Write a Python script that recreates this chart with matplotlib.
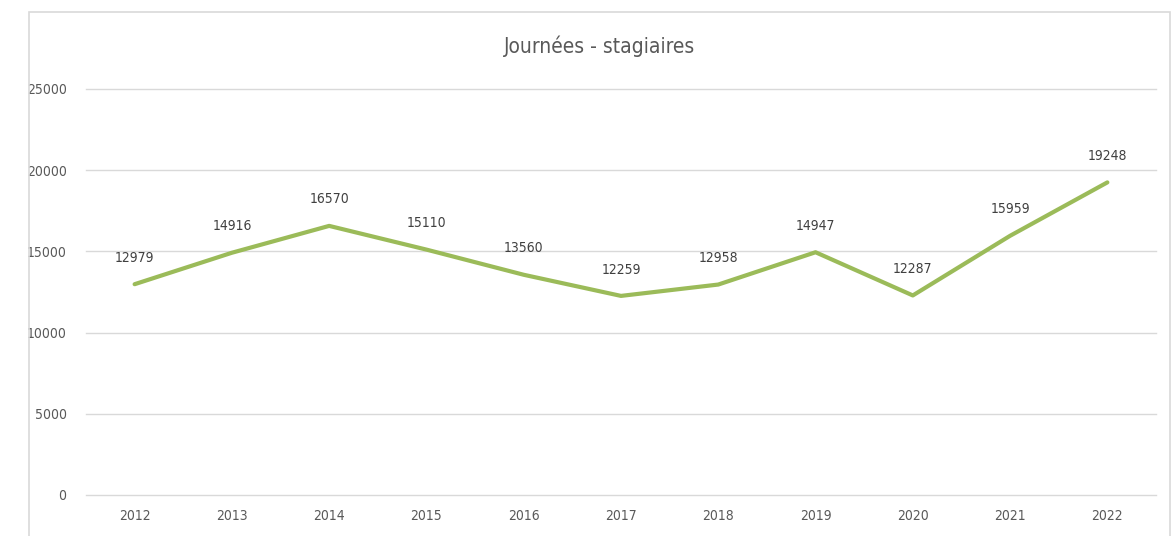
import matplotlib
matplotlib.use("Agg")
import matplotlib.pyplot as plt
from matplotlib.patches import Rectangle
from matplotlib import font_manager

years = ["2012", "2013", "2014", "2015", "2016", "2017", "2018", "2019", "2020", "2021", "2022"]
values = [12979, 14916, 16570, 15110, 13560, 12259, 12958, 14947, 12287, 15959, 19248]
yticks = [0, 5000, 10000, 15000, 20000, 25000]
title = "Journées - stagiaires"

cond = [f for f in font_manager.fontManager.ttflist if f.stretch in ("condensed", "semi-condensed", 87.5, 75)]
names = sorted({(f.name, f.stretch) for f in cond})
print(names)

plt.rcParams["font.family"] = ["DejaVu Sans"]
plt.rcParams["font.stretch"] = "condensed"

fig = plt.figure(figsize=(11.73, 5.36), dpi=100)
fig.patches.append(Rectangle((0.0247, -0.05), 0.973, 1.0276, transform=fig.transFigure,
                             fill=False, edgecolor="#d9d9d9", linewidth=1.2))
ax = fig.add_axes([0.0733, 0.0765, 0.9122, 0.7575])

x = list(range(len(years)))
ax.plot(x, values, color="#9BBB59", linewidth=3, solid_capstyle="round", zorder=3)
for xi, v in zip(x, values):
    ax.annotate(str(v), (xi, v), xytext=(0, 19), textcoords="offset points",
                ha="center", va="center", fontsize=10, color="#404040")

ax.set_xlim(-0.5, len(years) - 0.5)
ax.set_ylim(0, 25000)
ax.set_yticks(yticks)
ax.set_yticklabels([str(t) for t in yticks])
ax.set_xticks(x)
ax.set_xticklabels(years)
ax.tick_params(axis="both", length=0, labelsize=10, labelcolor="#595959")
ax.tick_params(axis="y", pad=14)
ax.tick_params(axis="x", pad=10)
ax.grid(axis="y", color="#d9d9d9", linewidth=1)
for gl in ax.yaxis.get_gridlines():
    gl.set_clip_on(False)
ax.set_axisbelow(True)
for s in ax.spines.values():
    s.set_visible(False)

fig.text(0.5115, 0.913, title, ha="center", va="center", fontsize=15, color="#595959")

fig.savefig("out.png", dpi=100)
